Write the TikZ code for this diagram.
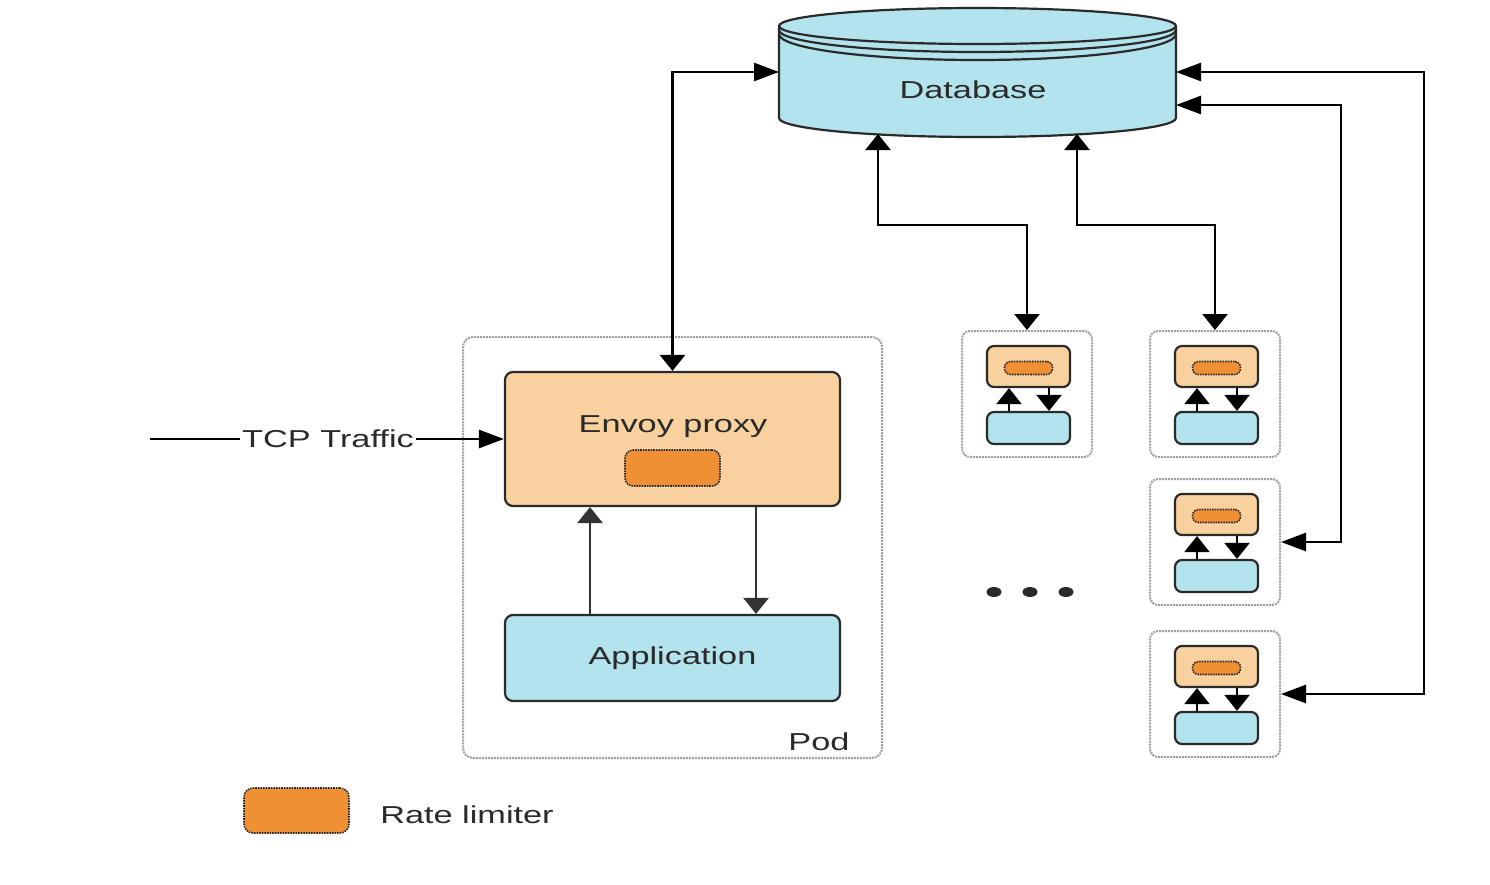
\documentclass[tikz,border=0pt]{standalone}
\usepackage{fontspec}
\usepackage{graphicx}
\setmainfont{Liberation Sans}
\usetikzlibrary{arrows.meta,calc}
\definecolor{dbblue}{HTML}{B3E3EC}
\definecolor{peach}{HTML}{F8D19F}
\definecolor{rlorange}{HTML}{F09035}
\definecolor{edge}{HTML}{2A2A2A}
\definecolor{txt}{HTML}{2A2A2A}
\newcommand{\wtext}[1]{\scalebox{1.4}[1]{#1}}
\tikzset{
  vtip/.tip={Triangle[length=16pt,width=25pt]},
  htip/.tip={Triangle[length=25pt,width=18pt]},
  conn/.style={line width=2.8pt, draw=black},
  box/.style={draw=edge, line width=2.2pt, rounded corners=8pt, inner sep=0pt},
  rl/.style={draw=edge, densely dotted, line width=1.6pt, fill=rlorange, rounded corners=8pt, inner sep=0pt},
  podbox/.style={draw=gray!75, densely dotted, line width=2pt, rounded corners=10pt, inner sep=0pt},
  lbl/.style={text=txt, font=\fontsize{24.5}{28}\selectfont, inner sep=2pt},
  cyl/.style={fill=dbblue, draw=edge, line width=2.2pt}
}
\begin{document}
\begin{tikzpicture}[x=1pt,y=-1pt]
\useasboundingbox (0,0) rectangle (1490,884);

% database
\path[cyl] (779,26) -- (779,118)
  arc[start angle=180,end angle=360,x radius=198.5pt,y radius=19pt]
  -- (1176,26)
  arc[start angle=0,end angle=180,x radius=198.5pt,y radius=18pt] -- cycle;
\draw[edge, line width=2.2pt] (779,26) arc[start angle=180,end angle=360,x radius=198.5pt,y radius=18pt];
\draw[edge, line width=2.2pt] (779,30) arc[start angle=180,end angle=360,x radius=198.5pt,y radius=22pt];
\draw[edge, line width=2.2pt] (779,34) arc[start angle=180,end angle=360,x radius=198.5pt,y radius=26pt];
\node[inner sep=0pt, minimum width=397pt, minimum height=129pt] (db) at (977.5,72.5) {};
\node[lbl] (dblbl) at (973,90) {\wtext{Database}};
\coordinate (dbl) at (779,72);
\coordinate (dbb1) at (878,134);
\coordinate (dbb2) at (1077,134);
\coordinate (dbr1) at (1176,72);
\coordinate (dbr2) at (1176,105);

% main pod
\node[podbox, minimum width=419pt, minimum height=421pt] (pod) at (672.5,547.5) {};
\node[box, fill=peach, minimum width=335pt, minimum height=134pt] (envoy) at (672.5,439) {};
\node[lbl] (envoylbl) at (673,427) {\wtext{Envoy proxy}};
\node[rl, minimum width=95pt, minimum height=36pt] (rl) at (672.5,468) {};
\node[box, fill=dbblue, minimum width=335pt, minimum height=86pt, lbl, inner sep=0pt] (app) at (672.5,658) {\wtext{Application}};
\node[lbl] (podlbl) at (819,742) {\wtext{Pod}};
\coordinate (u1) at (590,0);
\coordinate (d1) at (756,0);
\draw[conn, draw=black!80, -vtip] (app.north -| u1) -- (envoy.south -| u1);
\draw[conn, draw=black!80, -vtip] (envoy.south -| d1) -- (app.north -| d1);

% TCP traffic
\coordinate (tcpstart) at (150,439);
\node[lbl] (tcp) at (328,439) {\wtext{TCP Traffic}};
\draw[conn] (tcpstart) -- (tcp.west);
\draw[conn, -htip] (tcp.east) -- (envoy.west);

% small pods
\foreach \i/\x/\y in {1/962/331, 2/1150/331, 3/1150/479, 4/1150/631} {
  \node[podbox, rounded corners=8pt, minimum width=130pt, minimum height=126pt] (p\i) at (\x+65,\y+63) {};
  \node[box, fill=peach, rounded corners=7pt, minimum width=83pt, minimum height=41pt] (e\i) at (\x+66.5,\y+35.5) {};
  \node[rl, rounded corners=6pt, minimum width=48pt, minimum height=13pt] (r\i) at (\x+66.5,\y+37) {};
  \node[box, fill=dbblue, rounded corners=7pt, minimum width=83pt, minimum height=32pt] (a\i) at (\x+66.5,\y+97) {};
  \draw[conn, line width=2.2pt, -vtip] ($(a\i.north)+(-19.5,0)$) -- ($(e\i.south)+(-19.5,0)$);
  \draw[conn, line width=2.2pt, -vtip] ($(e\i.south)+(20.5,0)$) -- ($(a\i.north)+(20.5,0)$);
}

% connectors to database
\draw[conn, vtip-htip] (envoy.north) |- (dbl);
\draw[conn, vtip-vtip] (dbb1) -- ++(0,91) -| (p1.north);
\draw[conn, vtip-vtip] (dbb2) -- ++(0,91) -| (p2.north);
\draw[conn, htip-htip] (dbr1) -- ++(248,0) |- (p4.east);
\draw[conn, htip-htip] (dbr2) -- ++(165,0) |- (p3.east);

% dots
\fill[edge] (994,592) ellipse [x radius=7.5pt, y radius=5pt];
\fill[edge] (1030,592) ellipse [x radius=7.5pt, y radius=5pt];
\fill[edge] (1066,592) ellipse [x radius=7.5pt, y radius=5pt];

% legend
\node[rl, minimum width=105pt, minimum height=45pt, rounded corners=9pt] (legrl) at (296.5,810.5) {};
\node[lbl] (leglbl) at (467,815) {\wtext{Rate limiter}};
\end{tikzpicture}
\end{document}
